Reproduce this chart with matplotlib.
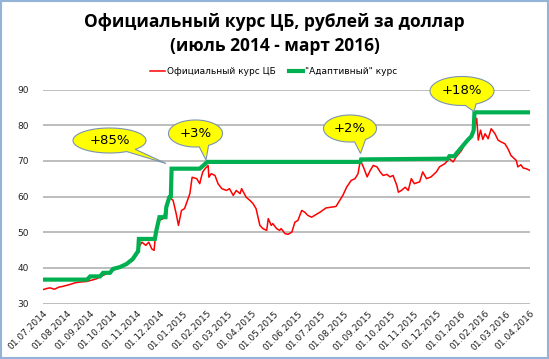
import numpy as np
import pandas as pd
import matplotlib
matplotlib.use("Agg")
import matplotlib.pyplot as plt
import matplotlib.dates as mdates
from matplotlib.patches import Polygon, Rectangle

# official CBR rate
cb_dates = [
    "2014-07-01", "2014-07-06", "2014-07-10", "2014-07-16", "2014-07-22", "2014-07-27",
    "2014-08-05", "2014-08-12", "2014-08-18",
    "2014-08-28", "2014-09-09", "2014-09-22", "2014-10-05", "2014-10-18", "2014-10-27",
    "2014-11-02", "2014-11-04", "2014-11-08", "2014-11-13", "2014-11-17", "2014-11-21",
    "2014-11-24", "2014-11-26", "2014-12-01", "2014-12-06", "2014-12-10", "2014-12-14",
    "2014-12-19", "2014-12-23", "2014-12-26", "2014-12-30", "2015-01-03", "2015-01-10",
    "2015-01-13", "2015-01-19", "2015-01-23", "2015-01-25", "2015-01-27", "2015-01-30",
    "2015-02-03", "2015-02-04", "2015-02-07", "2015-02-12", "2015-02-16", "2015-02-21",
    "2015-02-27", "2015-03-03", "2015-03-08", "2015-03-12", "2015-03-17", "2015-03-19",
    "2015-03-25", "2015-03-30", "2015-04-03", "2015-04-07", "2015-04-12", "2015-04-16",
    "2015-04-21", "2015-04-23", "2015-04-27", "2015-04-29", "2015-05-04", "2015-05-08",
    "2015-05-10", "2015-05-15", "2015-05-19", "2015-05-24", "2015-05-28", "2015-06-01",
    "2015-06-06", "2015-06-10", "2015-06-14", "2015-06-19", "2015-06-23", "2015-06-30",
    "2015-07-08", "2015-07-15", "2015-07-21", "2015-07-26", "2015-07-30", "2015-08-04",
    "2015-08-10", "2015-08-15", "2015-08-19", "2015-08-22", "2015-08-26", "2015-08-31",
    "2015-09-04", "2015-09-08", "2015-09-13", "2015-09-17", "2015-09-21", "2015-09-26",
    "2015-09-30", "2015-10-04", "2015-10-09", "2015-10-11", "2015-10-15", "2015-10-20",
    "2015-10-24", "2015-10-28", "2015-11-01", "2015-11-08", "2015-11-12", "2015-11-17",
    "2015-11-23", "2015-11-30", "2015-12-04", "2015-12-11", "2015-12-17", "2015-12-22",
    "2015-12-26", "2016-01-02", "2016-01-08", "2016-01-15", "2016-01-19", "2016-01-22",
    "2016-01-24", "2016-01-27", "2016-01-30", "2016-02-02", "2016-02-06", "2016-02-10",
    "2016-02-15", "2016-02-19", "2016-02-23", "2016-02-28", "2016-03-03", "2016-03-07",
    "2016-03-14", "2016-03-16", "2016-03-20", "2016-03-23", "2016-03-27", "2016-04-01",
]
cb_rate = [
    33.9, 34.2, 34.4, 34.0, 34.6, 34.8,
    35.3, 35.8, 36.0,
    36.2, 36.9, 38.3, 39.7, 40.9, 42.0,
    43.9, 45.8, 47.2, 46.3, 47.2, 45.3,
    44.9, 49.6, 53.3, 53.8, 57.0, 59.8,
    58.9, 55.2, 51.9, 56.1, 56.6, 60.8,
    65.4, 65.0, 63.6, 65.4, 66.9, 67.8,
    68.7, 65.4, 66.4, 65.9, 63.6, 62.2,
    61.7, 62.2, 60.3, 61.7, 60.8, 62.2,
    59.8, 58.9, 58.0, 56.6, 51.9, 51.0,
    50.5, 53.8, 51.9, 52.4, 51.0, 50.5,
    51.0, 49.6, 49.4, 50.0, 52.8, 53.3,
    56.1, 55.6, 54.7, 54.2, 54.7, 55.6,
    56.8, 57.0, 57.2, 58.9, 60.3, 62.6,
    64.5, 65.0, 66.4, 70.1, 68.3, 65.5,
    67.3, 68.7, 68.3, 66.9, 65.9, 66.2,
    65.5, 65.9, 63.1, 61.2, 61.7, 62.6,
    61.7, 65.0, 63.6, 64.1, 66.9, 65.0,
    65.5, 66.9, 68.3, 69.2, 70.6, 69.7,
    71.1, 72.9, 75.3, 76.7, 79.2, 81.9,
    75.8, 78.6, 76.0, 77.6, 76.2, 79.0,
    77.6, 75.8, 75.3, 74.8, 73.4, 71.5,
    70.1, 68.3, 68.9, 68.0, 67.8, 67.3,
]

# "adaptive" rate (ratchet line)
ad_dates = [
    "2014-07-01", "2014-08-28", "2014-09-01", "2014-09-14", "2014-09-18", "2014-09-27",
    "2014-10-01", "2014-10-10", "2014-10-19", "2014-10-27", "2014-11-02", "2014-11-03",
    "2014-11-04", "2014-11-25", "2014-11-27", "2014-12-01", "2014-12-09", "2014-12-10",
    "2014-12-14", "2014-12-16", "2014-12-17", "2015-01-23", "2015-02-02", "2015-08-22",
    "2015-08-23", "2015-12-15", "2015-12-17", "2015-12-24", "2015-12-26", "2015-12-28",
    "2016-01-10", "2016-01-15", "2016-01-18", "2016-01-19", "2016-04-01",
]
ad_rate = [
    36.7, 36.7, 37.6, 37.6, 38.6, 38.6,
    39.7, 40.2, 41.1, 42.5, 44.4, 44.6,
    48.1, 48.1, 50.5, 54.2, 54.2, 57.0,
    59.8, 60.0, 67.8, 67.8, 69.7, 69.7,
    70.4, 70.6, 71.3, 71.3, 72.0, 72.5,
    75.8, 76.9, 78.6, 83.6, 83.6,
]

month_ticks = pd.date_range("2014-07-01", "2016-04-01", freq="MS")
y_ticks = [30, 40, 50, 60, 70, 80, 90]

# callouts: label, centre (px), half axes (px), tail base angles (deg), tail tip (px)
bubble_labels = ["+85%", "+3%", "+2%", "+18%"]
bubble_centres = [(109.5, 140.5), (195.5, 133.5), (350.0, 128.5), (462.0, 91.0)]
bubble_axes = [(36.5, 12.5), (27.0, 13.5), (26.5, 13.5), (32.0, 14.5)]
bubble_tail = [(45, 62), (61, 82), (54, 80), (64, 84)]
bubble_tips = [(166.0, 163.5), (206.0, 160.0), (360.5, 153.5), (474.0, 111.5)]

W, H = 549, 359
fig = plt.figure(figsize=(W / 100, H / 100), dpi=100)
fig.patch.set_facecolor("white")
ax = fig.add_axes([43 / W, 1 - 303.5 / H, 487 / W, 214 / H])

x_cb = pd.to_datetime(cb_dates)
x_ad = pd.to_datetime(ad_dates)
ax.plot(x_cb, cb_rate, color="#FF0000", lw=1.1, label="Официальный курс ЦБ", zorder=3)
ax.plot(x_ad, ad_rate, color="#00B050", lw=3.0, label='"Адаптивный" курс', zorder=4,
        solid_joinstyle="miter")

ax.set_xlim(pd.Timestamp("2014-07-01"), pd.Timestamp("2016-04-01"))
ax.set_ylim(30, 90)
ax.set_yticks(y_ticks)
ax.set_xticks(month_ticks)
ax.xaxis.set_major_formatter(mdates.DateFormatter("%d.%m.%Y"))
for lbl in ax.get_xticklabels():
    lbl.set_rotation(45)
    lbl.set_ha("right")
    lbl.set_rotation_mode("anchor")
ax.tick_params(axis="both", length=0, labelsize=6.5, colors="#222222")
ax.tick_params(axis="y", pad=10)
ax.tick_params(axis="x", pad=4)
ax.grid(axis="y", color="#B8B8B8", lw=1.3)
ax.set_axisbelow(True)
for s in ax.spines.values():
    s.set_visible(False)

fig.text(0.5, 1 - 22 / H, "Официальный курс ЦБ, рублей за доллар", ha="center", va="center",
         fontsize=12.5, fontweight="bold", family="Open Sans")
fig.text(0.5, 1 - 46 / H, "(июль 2014 - март 2016)", ha="center", va="center",
         fontsize=12.5, fontweight="bold", family="Open Sans")

fig.legend(loc="center", bbox_to_anchor=(274 / W, 1 - 72 / H), ncol=2, frameon=False,
           fontsize=6.5, handlelength=1.6, handletextpad=0.2, columnspacing=1.5)


def bubble(label, centre, axes_len, tail, tip):
    cx, cy = centre
    a, b = axes_len
    t1, t2 = np.radians(tail)
    th = np.linspace(t2, t1 + 2 * np.pi, 120)
    pts = [(cx + a * np.cos(t), cy + b * np.sin(t)) for t in th]
    pts.append(tip)
    pts = [(px / W, 1 - py / H) for px, py in pts]
    poly = Polygon(pts, closed=True, transform=fig.transFigure, facecolor="#FFFF00",
                   edgecolor="#7A93B0", lw=0.8, zorder=10)
    fig.patches.append(poly)
    fig.text(cx / W, 1 - cy / H, label, ha="center", va="center", fontsize=9.5,
             color="black", zorder=11)


for i in range(len(bubble_labels)):
    bubble(bubble_labels[i], bubble_centres[i], bubble_axes[i], bubble_tail[i], bubble_tips[i])

# light blue chart border like excel
fig.patches.append(Rectangle((0.002, 0.003), 0.996, 0.994, transform=fig.transFigure,
                             fill=False, edgecolor="#95B3D7", lw=1.5))

fig.savefig("out.png", dpi=100)
